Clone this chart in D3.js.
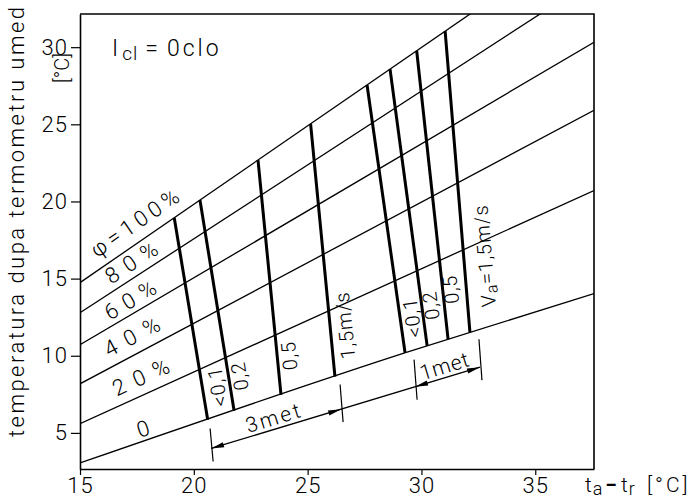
<!DOCTYPE html>
<html>
<head>
<meta charset="utf-8">
<script src="https://cdn.jsdelivr.net/npm/d3@7"></script>
<style>
  body { margin: 0; background: #fff; }
  text { font-family: Roboto, "DejaVu Sans", sans-serif; font-weight: 300; fill: #000; }
</style>
</head>
<body>
<svg id="chart" width="698" height="501"></svg>
<script>
// axis ticks
const xTicks = [15, 20, 25, 30, 35];
const yTicks = [5, 10, 15, 20, 25, 30];

// relative humidity curves: wet-bulb temperature at the left edge (ta-tr = 15)
// and at the right edge (ta-tr = 37.58); upper curves leave through the top edge
const rhLabels = ["0", "20%", "40%", "60%", "80%", "φ=100%"];
const rhLeft   = [3.05, 5.60, 8.18, 10.71, 12.79, 14.74];
const rhRight  = [14.03, 20.71, 25.91, 30.32, 34.42, 37.68];
const dryMid   = [29.3, 10.2];   // extra point on the φ = 0 curve

// air-speed lines, 3 met group: ta-tr where each meets φ=0 and φ=100 %
const speeds3  = ["<0,1", "0,2", "0,5", "1,5m/s"];
const met3Base = [20.61, 21.77, 23.83, 26.20];
const met3Tip  = [19.14, 20.27, 22.82, 25.13];

// air-speed lines, 1 met group
const speeds1  = ["<0,1", "0,2", "0,5", "Va=1,5m/s"];
const met1Base = [29.28, 30.25, 31.17, 32.13];
const met1Tip  = [27.61, 28.62, 29.79, 31.04];

// metabolic-rate dimension line and its spans
const dimX     = [20.76, 32.57];
const dimY     = [3.99, 9.26];
const metNames = ["3met", "1met"];
const metFrom  = [20.76, 29.72];
const metTo    = [26.47, 32.57];

const svg = d3.select("#chart");
const x = d3.scaleLinear().domain([15, 37.58]).range([80, 594]);
const y = d3.scaleLinear().domain([2.66, 32.15]).range([469, 14]);
const [x0, x1] = x.range();
const [y0, y1] = y.range();

svg.append("defs").append("clipPath").attr("id", "plotArea")
  .append("rect").attr("x", x0).attr("y", y1).attr("width", x1 - x0).attr("height", y0 - y1);

// humidity curves as point lists
const curves = rhLeft.map((v, i) => {
  const pts = [[15, v], [37.58, rhRight[i]]];
  if (i === 0) pts.splice(1, 0, dryMid);
  return pts;
});
function valueAt(pts, xv) {
  for (let k = 0; k < pts.length - 1; k++) {
    const a = pts[k], b = pts[k + 1];
    if (xv <= b[0] || k === pts.length - 2) {
      return a[1] + (b[1] - a[1]) * (xv - a[0]) / (b[0] - a[0]);
    }
  }
}
const line = d3.line().x(d => x(d[0])).y(d => y(d[1])).curve(d3.curveMonotoneX);

const plot = svg.append("g").attr("clip-path", "url(#plotArea)");
plot.selectAll("path.rh").data(curves).join("path")
  .attr("class", "rh")
  .attr("d", line)
  .attr("fill", "none").attr("stroke", "#000").attr("stroke-width", 1.3);

// humidity labels, set above their curve and turned along it
const rhLabelX = [147, 148, 140, 137, 139, 145].map(p => x.invert(p));
const rhLabelOff = [12, 17, 17, 13, 14, 18];
const rhLabelLen = [null, 60, 60, 56, 58, 102];
rhLabels.forEach((lab, i) => {
  const xv = rhLabelX[i];
  const px = x(xv), py = y(valueAt(curves[i], xv));
  const qx = x(xv + 1), qy = y(valueAt(curves[i], xv + 1));
  const th = Math.atan2(qy - py, qx - px);
  const cx = px + rhLabelOff[i] * Math.sin(th);
  const cy = py - rhLabelOff[i] * Math.cos(th);
  const t = svg.append("text")
    .attr("transform", `translate(${cx},${cy}) rotate(${th * 180 / Math.PI})`)
    .attr("text-anchor", "middle").attr("dominant-baseline", "central")
    .attr("font-size", 22).text(lab);
  if (rhLabelLen[i]) t.attr("textLength", rhLabelLen[i]).attr("lengthAdjust", "spacing");
});

// air-speed lines
function speedLines(base, tip, names, tagPos, tagOff) {
  base.forEach((bx, i) => {
    const b = [x(bx), y(valueAt(curves[0], bx))];
    const tp = [x(tip[i]), y(valueAt(curves[5], tip[i]))];
    svg.append("line")
      .attr("x1", b[0]).attr("y1", b[1]).attr("x2", tp[0]).attr("y2", tp[1])
      .attr("stroke", "#000").attr("stroke-width", 3);
    const phi = Math.atan2(tp[1] - b[1], tp[0] - b[0]);
    const px = b[0] + tagPos[i] * (tp[0] - b[0]);
    const py = b[1] + tagPos[i] * (tp[1] - b[1]);
    const cx = px - tagOff[i] * Math.sin(phi);
    const cy = py + tagOff[i] * Math.cos(phi);
    const t = svg.append("text")
      .attr("transform", `translate(${cx},${cy}) rotate(${phi * 180 / Math.PI})`)
      .attr("text-anchor", "middle").attr("dominant-baseline", "central")
      .attr("font-size", 20).attr("letter-spacing", 1);
    const name = names[i];
    if (name.startsWith("Va")) {
      t.append("tspan").text("V");
      t.append("tspan").attr("font-size", 16).attr("dy", 4).text("a");
      t.append("tspan").attr("dy", -4).text(name.slice(2));
    } else {
      t.text(name);
    }
  });
}
speedLines(met3Base, met3Tip, speeds3, [0.152, 0.156, 0.162, 0.197], [15, 11, 12, 15]);
speedLines(met1Base, met1Tip, speeds1, [0.125, 0.142, 0.17, 0.249], [12, 9, 8, 21]);

// dimension line for the metabolic rates
const dimPts = [[dimX[0], dimY[0]], [dimX[1], dimY[1]]];
const dimAt = xv => valueAt(dimPts, xv);
svg.append("line")
  .attr("x1", x(dimX[0])).attr("y1", y(dimY[0]))
  .attr("x2", x(dimX[1])).attr("y2", y(dimY[1]))
  .attr("stroke", "#000").attr("stroke-width", 1.3);
const dth = Math.atan2(y(dimY[1]) - y(dimY[0]), x(dimX[1]) - x(dimX[0]));
function arrow(px, py, dir) {
  const ux = Math.cos(dth) * dir, uy = Math.sin(dth) * dir;
  const L = 13, w = 2.6;
  const bx = px - ux * L, by = py - uy * L;
  svg.append("path")
    .attr("d", `M${px},${py}L${bx - uy * w},${by + ux * w}L${bx + uy * w},${by - ux * w}Z`)
    .attr("fill", "#000");
}
metNames.forEach((m, i) => {
  [metFrom[i], metTo[i]].forEach((xv, j) => {
    const px = x(xv), py = y(dimAt(xv));
    const topY = y(valueAt(curves[0], xv)) + 10;
    svg.append("line")
      .attr("x1", px - 1).attr("y1", topY).attr("x2", px + 2).attr("y2", py + 13)
      .attr("stroke", "#000").attr("stroke-width", 1.2);
    arrow(px, py, j === 0 ? -1 : 1);
  });
  const mx = (metFrom[i] + metTo[i]) / 2;
  const mpx = x(mx), mpy = y(dimAt(mx));
  const cx = mpx + 11 * Math.sin(dth), cy = mpy - 11 * Math.cos(dth);
  svg.append("text")
    .attr("transform", `translate(${cx},${cy}) rotate(${dth * 180 / Math.PI})`)
    .attr("text-anchor", "middle").attr("dominant-baseline", "central")
    .attr("font-size", 21)
    .attr("textLength", i === 0 ? 56 : 50).attr("lengthAdjust", "spacing")
    .text(m);
});

// axes and frame
const gx = svg.append("g").attr("transform", `translate(0,${y0})`)
  .call(d3.axisBottom(x).tickValues(xTicks).tickSize(6).tickPadding(2).tickSizeOuter(0));
const gy = svg.append("g").attr("transform", `translate(${x0},0)`)
  .call(d3.axisLeft(y).tickValues(yTicks).tickSize(9).tickPadding(3).tickSizeOuter(0));
[gx, gy].forEach(g => {
  g.attr("font-family", null).attr("font-size", null);
  g.selectAll("text").attr("font-size", 22).attr("letter-spacing", 1);
  g.select(".domain").attr("stroke-width", 1.6);
  g.selectAll(".tick line").attr("stroke-width", 1.2);
});
svg.append("path")
  .attr("d", `M${x0},${y1}H${x1}V${y0}`)
  .attr("fill", "none").attr("stroke", "#000").attr("stroke-width", 1.6);

// clothing insulation note
const note = svg.append("text").attr("x", 112).attr("y", 56).attr("font-size", 23);
note.append("tspan").text("I");
note.append("tspan").attr("font-size", 19).attr("dx", 4).attr("dy", 4).attr("letter-spacing", 1).text("cl");
note.append("tspan").attr("dy", -4).attr("dx", 7).text("=");
note.append("tspan").attr("dx", 9).attr("letter-spacing", 3).text("0clo");

// axis titles
svg.append("text")
  .attr("transform", "translate(24,437) rotate(-90)")
  .attr("font-size", 22)
  .attr("textLength", 430).attr("lengthAdjust", "spacing")
  .text("temperatura dupa termometru umed");
svg.append("text")
  .attr("transform", "translate(69,68) rotate(-90)")
  .attr("text-anchor", "middle").attr("font-size", 20)
  .text("[°C]");
const xt = svg.append("text").attr("x", 585).attr("y", 492).attr("font-size", 21);
xt.append("tspan").text("t");
xt.append("tspan").attr("font-size", 18).attr("dy", 3).attr("dx", 1).text("a");
xt.append("tspan").attr("dy", -3).attr("dx", 3).attr("font-weight", 700).text("−");
xt.append("tspan").attr("dx", 4).text("t");
xt.append("tspan").attr("font-size", 18).attr("dy", 3).attr("dx", 1).text("r");
xt.append("tspan").attr("dy", -3).attr("dx", 12).attr("letter-spacing", 3).text("[°C]");
</script>
</body>
</html>
